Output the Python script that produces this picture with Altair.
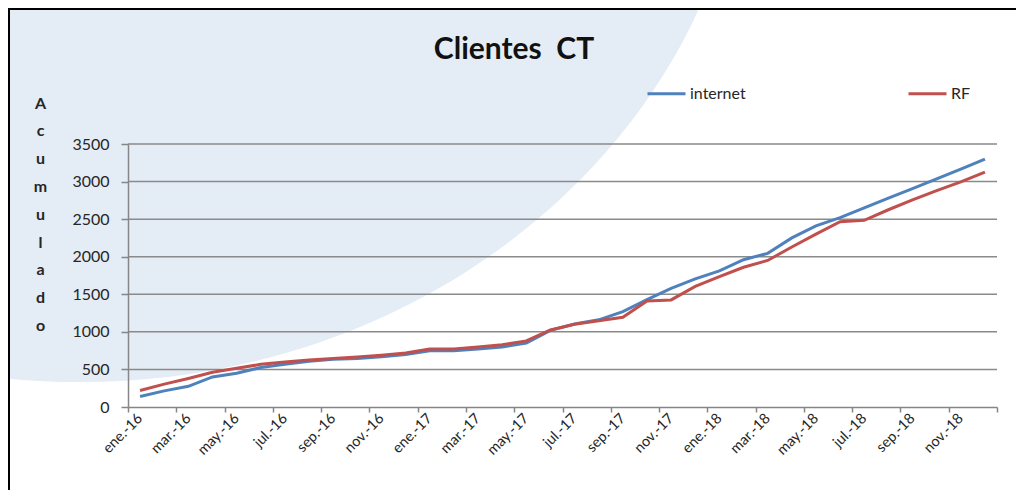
import json
import altair as alt
import pandas as pd

# ---- data ----
months = ["ene.-16", "feb.-16", "mar.-16", "abr.-16", "may.-16", "jun.-16",
          "jul.-16", "ago.-16", "sep.-16", "oct.-16", "nov.-16", "dic.-16",
          "ene.-17", "feb.-17", "mar.-17", "abr.-17", "may.-17", "jun.-17",
          "jul.-17", "ago.-17", "sep.-17", "oct.-17", "nov.-17", "dic.-17",
          "ene.-18", "feb.-18", "mar.-18", "abr.-18", "may.-18", "jun.-18",
          "jul.-18", "ago.-18", "sep.-18", "oct.-18", "nov.-18", "dic.-18"]
internet = [140, 215, 275, 400, 450, 525, 570, 610, 635, 645, 670, 700,
            750, 750, 772, 800, 851, 1020, 1105, 1160, 1270, 1430, 1580, 1705,
            1812, 1960, 2045, 2250, 2410, 2520, 2650, 2780, 2905, 3035, 3165, 3300]
rf = [220, 305, 380, 462, 515, 568, 600, 627, 645, 667, 690, 720,
      772, 772, 798, 828, 880, 1025, 1100, 1148, 1195, 1412, 1425, 1605,
      1735, 1860, 1950, 2130, 2300, 2465, 2485, 2625, 2755, 2880, 2995, 3125]
series = ["internet", "RF"]
colors = ["#4F81BD", "#C0504D"]
y_ticks = [0, 500, 1000, 1500, 2000, 2500, 3000, 3500]
title_text = "Clientes\u00a0 CT"
y_title = list("Acumulado")

W, H = 869, 263
FONT = "Lato"

rows = []
for i, m in enumerate(months):
    rows.append({"idx": i, "mes": m, "serie": "internet", "valor": internet[i]})
    rows.append({"idx": i, "mes": m, "serie": "RF", "valor": rf[i]})
df = pd.DataFrame(rows)

x_tick_vals = [i - 0.5 for i in range(0, len(months) + 1, 2)]
label_expr = ("datum.value < " + str(len(months) - 1) + " ? " + json.dumps(months)
              + "[round(datum.value + 0.5)] : ''")

x_enc = alt.X("idx:Q",
              scale=alt.Scale(domain=[-0.5, len(months) - 0.5], nice=False, zero=False),
              axis=alt.Axis(values=x_tick_vals, labelExpr=label_expr, labelAngle=-45,
                            labelAlign="right", labelBaseline="middle", labelOffset=12,
                            tickSize=5, labelPadding=4, grid=False, title=None,
                            labelFlush=False, labelOverlap=False, labelBound=False,
                            domainColor="#868686", tickColor="#868686", domainWidth=1.5,
                            tickWidth=1.5, labelFont=FONT, labelFontSize=14.5,
                            labelColor="#262626", zindex=1))
y_scale = alt.Scale(domain=[0, 3500], nice=False)
y_axis = alt.Axis(values=y_ticks, format="d", grid=False, tickSize=7, labelPadding=12,
                  domainColor="#868686", tickColor="#868686", domainWidth=1.5,
                  tickWidth=1.5, labelFont=FONT, labelFontSize=16,
                  labelColor="#262626", zindex=1,
                  title=y_title, titleAngle=0, titleX=-88, titleY=-49,
                  titleBaseline="top", titleAlign="center",
                  titleLineHeight=27.8, titleFont=FONT, titleFontSize=16,
                  titleFontWeight="bold", titleColor="#262626")

one = pd.DataFrame({"k": [0]})

# decorative background ellipse (pale blue swoosh)
ellipse = alt.Chart(one).mark_point(
    shape="M -1 0 A 1 0.9 0 1 1 1 0 A 1 0.9 0 1 1 -1 0 Z",
    filled=True, opacity=1, color="#E4ECF5", strokeWidth=0
).encode(x=alt.value(-48), y=alt.value(-364), size=alt.value(1790244))

grid = alt.Chart(pd.DataFrame({"valor": y_ticks[1:]})).mark_rule(
    color="#8A8A8A", strokeWidth=1.5
).encode(y=alt.Y("valor:Q", scale=y_scale, axis=y_axis))

lines = alt.Chart(df).mark_line(strokeWidth=3).encode(
    x=x_enc,
    y=alt.Y("valor:Q", scale=y_scale, axis=y_axis),
    color=alt.Color("serie:N", scale=alt.Scale(domain=series, range=colors),
                    sort=series,
                    legend=alt.Legend(orient="none", legendX=518, legendY=-71,
                                      direction="horizontal", title=None,
                                      symbolType="stroke", symbolSize=1444,
                                      symbolStrokeWidth=3, labelFont=FONT,
                                      labelFontSize=16, labelColor="#262626",
                                      columnPadding=156, labelOffset=3)),
    detail="serie:N",
)

title = alt.Chart(one).mark_text(
    text=title_text, font=FONT, fontSize=30, fontWeight="bold", color="#111111",
    align="center", baseline="alphabetic"
).encode(x=alt.value(386), y=alt.value(-85))

border_top = alt.Chart(one).mark_rule(color="#000000", strokeWidth=2).encode(
    x=alt.value(-120), x2=alt.value(W + 19), y=alt.value(-135))
border_left = alt.Chart(one).mark_rule(color="#000000", strokeWidth=2).encode(
    x=alt.value(-119), y=alt.value(-136), y2=alt.value(H + 83))

chart = alt.layer(ellipse, grid, lines, title, border_top, border_left).properties(
    width=W, height=H,
    autosize=alt.AutoSizeParams(type="none"),
    padding={"left": 120, "top": 136, "right": 19, "bottom": 83},
    background="white",
).configure_view(stroke=None)

chart.save("out.html", embed_options={"renderer": "svg", "actions": False})
